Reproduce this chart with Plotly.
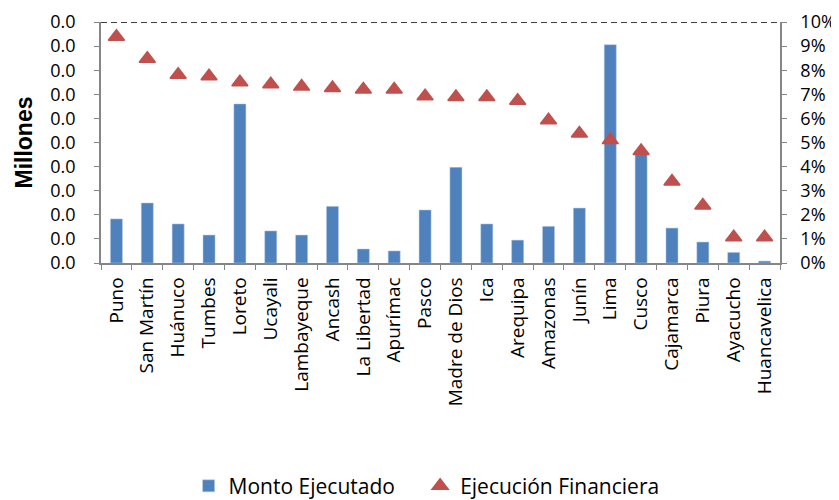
import plotly.graph_objects as go

regiones = ["Puno", "San Martín", "Huánuco", "Tumbes", "Loreto", "Ucayali", "Lambayeque",
            "Ancash", "La Libertad", "Apurímac", "Pasco", "Madre de Dios", "Ica", "Arequipa",
            "Amazonas", "Junín", "Lima", "Cusco", "Cajamarca", "Piura", "Ayacucho", "Huancavelica"]

# Monto Ejecutado (millones)
monto = [0.00183, 0.00249, 0.00162, 0.00116, 0.00660, 0.00133, 0.00116,
         0.00235, 0.00058, 0.00050, 0.00220, 0.00397, 0.00162, 0.00095,
         0.00152, 0.00228, 0.00906, 0.00465, 0.00145, 0.00087, 0.00044, 0.00008]

# Ejecución Financiera (fracción)
ejecucion = [0.0939, 0.0848, 0.0781, 0.0775, 0.0750, 0.0742, 0.0732,
             0.0726, 0.0720, 0.0720, 0.0692, 0.0689, 0.0689, 0.0673,
             0.0592, 0.0537, 0.0510, 0.0465, 0.0338, 0.0239, 0.0107, 0.0107]

left_ticks = [i * 0.001 for i in range(11)]
right_ticks = [i * 0.01 for i in range(11)]

font_family = "'Open Sans', Lato, sans-serif"
axis_grey = "#868686"
legend_font = dict(family=font_family, size=21, color="#000")

fig = go.Figure()
fig.add_trace(go.Bar(
    x=regiones, y=monto, name="Monto Ejecutado",
    marker=dict(color="#4F81BD", line=dict(color="#B9CDE5", width=0.5)),
    yaxis="y", legend="legend",
))
fig.add_trace(go.Scatter(
    x=regiones, y=ejecucion, name="Ejecución Financiera", mode="markers",
    marker=dict(symbol="triangle-up", size=14, color="#C0504D",
                line=dict(color="#C0504D", width=1.5)),
    yaxis="y2", legend="legend2",
))

fig.add_shape(type="line", xref="paper", yref="y2", x0=0, x1=1, y0=0.1, y1=0.1,
              line=dict(color="black", width=1.5, dash="6px,4px"))

# the page body adds an 8px offset, so the figure is 8px smaller and margins compensate
fig.update_layout(
    template="none",
    width=831, height=492,
    margin=dict(l=93, r=59, t=14, b=237, autoexpand=False),
    paper_bgcolor="white", plot_bgcolor="white",
    bargap=0.61,
    showlegend=True,
    legend=dict(orientation="h", x=0.129, xanchor="left", y=-0.926, yanchor="middle",
                font=legend_font, bgcolor="rgba(0,0,0,0)"),
    legend2=dict(orientation="h", x=0.470, xanchor="left", y=-0.926, yanchor="middle",
                 font=legend_font, bgcolor="rgba(0,0,0,0)"),
    xaxis=dict(
        type="category", range=[-0.5, len(regiones) - 0.5],
        tickangle=-90, tickson="boundaries", automargin=False,
        showline=True, linecolor=axis_grey, linewidth=1.5,
        ticks="outside", ticklen=5, tickcolor=axis_grey, ticklabelstandoff=5,
        tickfont=dict(family=font_family, size=19, color="#000"),
        showgrid=False,
    ),
    yaxis=dict(
        range=[0, 0.01], tickvals=left_ticks, tickformat=".1f", automargin=False,
        showline=True, linecolor=axis_grey, linewidth=1.5,
        ticks="outside", ticklen=5, tickcolor=axis_grey, ticklabelstandoff=15,
        tickfont=dict(family=font_family, size=18, color="#000"),
        showgrid=False, zeroline=False,
        title=dict(text="<b>Millones</b>", font=dict(family="Liberation Sans, Arial", size=23, color="#000"), standoff=11),
    ),
    yaxis2=dict(
        range=[0, 0.1], tickvals=right_ticks, tickformat=".0%", automargin=False,
        overlaying="y", side="right",
        showline=True, linecolor=axis_grey, linewidth=1.5,
        ticks="outside", ticklen=5, tickcolor=axis_grey, ticklabelstandoff=10,
        tickfont=dict(family=font_family, size=18, color="#000"),
        showgrid=False, zeroline=False,
    ),
)

fig.write_html("out.html")
